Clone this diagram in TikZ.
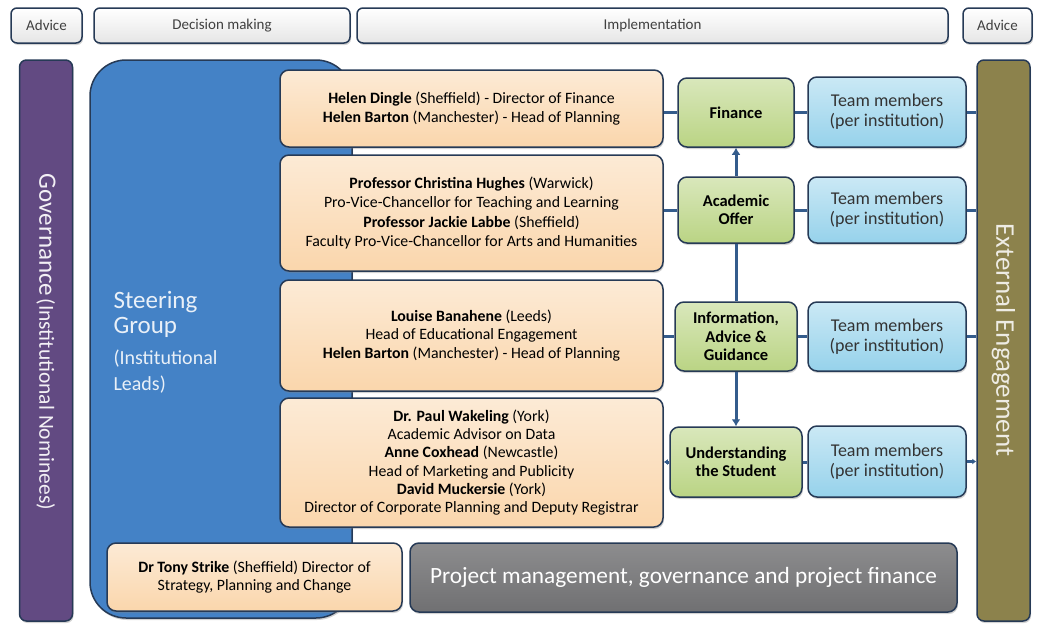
\documentclass[tikz,border=0pt]{standalone}
\usepackage{fontspec}
\setmainfont{Carlito}
\usepackage{tikz}
\usetikzlibrary{positioning,arrows.meta,shadows}

\definecolor{peach}{RGB}{250,214,172}
\definecolor{leaf}{RGB}{186,212,132}
\definecolor{sky}{RGB}{150,210,235}
\definecolor{steerblue}{RGB}{68,130,198}
\definecolor{plum}{RGB}{98,74,130}
\definecolor{extolive}{RGB}{140,130,76}
\definecolor{rimc}{RGB}{38,58,86}
\definecolor{linkc}{RGB}{52,92,140}
\definecolor{slate}{RGB}{112,112,114}

\begin{document}
\begin{tikzpicture}[x = 1pt, y = -1pt, >={Latex[length=7pt,width=9pt]},
                    box/.style    = {rectangle,
                                     rounded corners = 9pt,
                                     draw = rimc,
                                     line width = 1.5pt,
                                     align = center,
                                     inner sep = 0pt,
                                     drop shadow = {opacity = 0.35, shadow xshift = 1pt, shadow yshift = -2pt}},
                    hdr/.style    = {box,
                                     rounded corners = 6pt,
                                     top color = white,
                                     bottom color = gray!20,
                                     text = black!75,
                                     font = \fontsize{15}{17}\selectfont,
                                     minimum height = 35pt},
                    person/.style = {box,
                                     top color = peach!50,
                                     bottom color = peach,
                                     text = black,
                                     font = \fontsize{15.8}{18.2}\selectfont,
                                     minimum width = 383pt},
                    stream/.style = {box,
                                     top color = leaf!55,
                                     bottom color = leaf,
                                     text = black,
                                     font = \bfseries\fontsize{16.5}{18.5}\selectfont},
                    team/.style   = {box,
                                     top color = sky!50,
                                     bottom color = sky,
                                     text = black!80,
                                     font = \fontsize{18}{20}\selectfont,
                                     minimum width = 158pt},
                    bar/.style    = {box,
                                     rounded corners = 7pt,
                                     minimum width = 53pt,
                                     minimum height = 561pt},
                    conn/.style   = {draw = linkc, line width = 3pt}]

\useasboundingbox (0,0) rectangle (1038,624);

% header row
\node[hdr, minimum width = 71pt]  (H1) at (46.5,25.5)  {Advice};
\node[hdr, minimum width = 256pt] (H2) at (222,25.5)   {Decision making};
\node[hdr, minimum width = 591pt] (H3) at (652.5,25.5) {Implementation};
\node[hdr, minimum width = 69pt]  (H4) at (997.5,25.5) {Advice};

% side bars
\node[bar, fill = plum]     (G) at (46,340.5)     {};
\node[bar, fill = extolive] (E) at (1003.5,340.5) {};
\node[rotate = -90, text = white!92!plum] (Gt) at (46,342)
     {{\fontsize{25}{28}\selectfont Governance} {\fontsize{21.5}{24}\selectfont (Institutional Nominees)}};
\node[rotate = -90, text = white!85!extolive, font = \fontsize{27}{30}\selectfont] (Et) at (1003.5,340)
     {External Engagement};

% steering group
\node[box, rounded corners = 36pt, fill = steerblue,
      minimum width = 262pt, minimum height = 558pt] (S) at (221,339) {};
\node[anchor = north west, align = left, text = white!88!steerblue,
      font = \fontsize{25}{27}\selectfont] (St) at (110,288)
     {Steering\\[-2pt]
      Group\\[4pt]
      \fontsize{20}{25}\selectfont (Institutional\\[-1pt]
      \fontsize{20}{25}\selectfont Leads)};

% leads
\node[person, minimum height = 77pt]  (O1) at (471.5,108.5)
     {\textbf{Helen Dingle} (Sheffield) - Director of Finance\\
      \textbf{Helen Barton} (Manchester) - Head of Planning};
\node[person, minimum height = 116pt] (O2) at (471.5,213)
     {\textbf{Professor Christina Hughes} (Warwick)\\[1pt]
      Pro-Vice-Chancellor for Teaching and Learning\\[1pt]
      \textbf{Professor Jackie Labbe} (Sheffield)\\[1pt]
      Faculty Pro-Vice-Chancellor for Arts and Humanities};
\node[person, minimum height = 111pt] (O3) at (471.5,335.5)
     {\textbf{Louise Banahene} (Leeds)\\
      Head of Educational Engagement\\
      \textbf{Helen Barton} (Manchester) - Head of Planning};
\node[person, minimum height = 129pt] (O4) at (471.5,462.5)
     {\textbf{Dr. Paul Wakeling} (York)\\
      Academic Advisor on Data\\
      \textbf{Anne Coxhead} (Newcastle)\\
      Head of Marketing and Publicity\\
      \textbf{David Muckersie} (York)\\
      Director of Corporate Planning and Deputy Registrar};

% workstreams
\node[stream, minimum width = 116pt, minimum height = 69pt] (F) at (736,112.5) {Finance};
\node[stream, minimum width = 116pt, minimum height = 66pt] (A) at (736,210)   {Academic\\Offer};
\node[stream, minimum width = 122pt, minimum height = 69pt] (I) at (736,336.5) {Information,\\Advice \&\\Guidance};
\node[stream, minimum width = 132pt, minimum height = 70pt] (U) at (736,462)   {Understanding\\the Student};

% team members
\node[team, minimum height = 70pt] (T1) at (887,112)   {Team members\\(per institution)};
\node[team, minimum height = 66pt] (T2) at (887,210)   {Team members\\(per institution)};
\node[team, minimum height = 69pt] (T3) at (887,336.5) {Team members\\(per institution)};
\node[team, minimum height = 71pt] (T4) at (887,461.5) {Team members\\(per institution)};

% bottom row
\node[person, minimum width = 295pt, minimum height = 68pt] (TS) at (254.5,577)
     {\textbf{Dr Tony Strike} (Sheffield) Director of\\
      Strategy, Planning and Change};
\node[box, top color = slate!80, bottom color = slate, text = white!88,
      font = \fontsize{23.3}{26}\selectfont,
      minimum width = 547pt, minimum height = 69pt] (P) at (683.5,577.5)
     {Project management, governance and project finance};

% links
\draw[conn] (O1.east |- F.west) -- (F.west);
\draw[conn] (F.east) -- (F.east -| T1.west);
\draw[conn] (T1.east) -- (T1.east -| E.west);

\draw[conn] (O2.east |- A.west) -- (A.west);
\draw[conn] (A.east) -- (A.east -| T2.west);
\draw[conn] (T2.east) -- (T2.east -| E.west);

\draw[conn] (O3.east |- I.west) -- (I.west);
\draw[conn] (I.east) -- (I.east -| T3.west);
\draw[conn] (T3.east) -- (T3.east -| E.west);

\draw[conn, -{Latex[length=4pt,width=6pt]}] (U.west) -- (U.west -| O4.east);
\draw[conn] (U.east) -- (U.east -| T4.west);
\draw[conn, -{Latex[length=4pt,width=6pt]}] (T4.east) -- (T4.east -| E.west);

\path (A) edge [conn, ->] (F);
\path (A) edge [conn] (I);
\path (I) edge [conn, ->] (U);

\end{tikzpicture}
\end{document}
